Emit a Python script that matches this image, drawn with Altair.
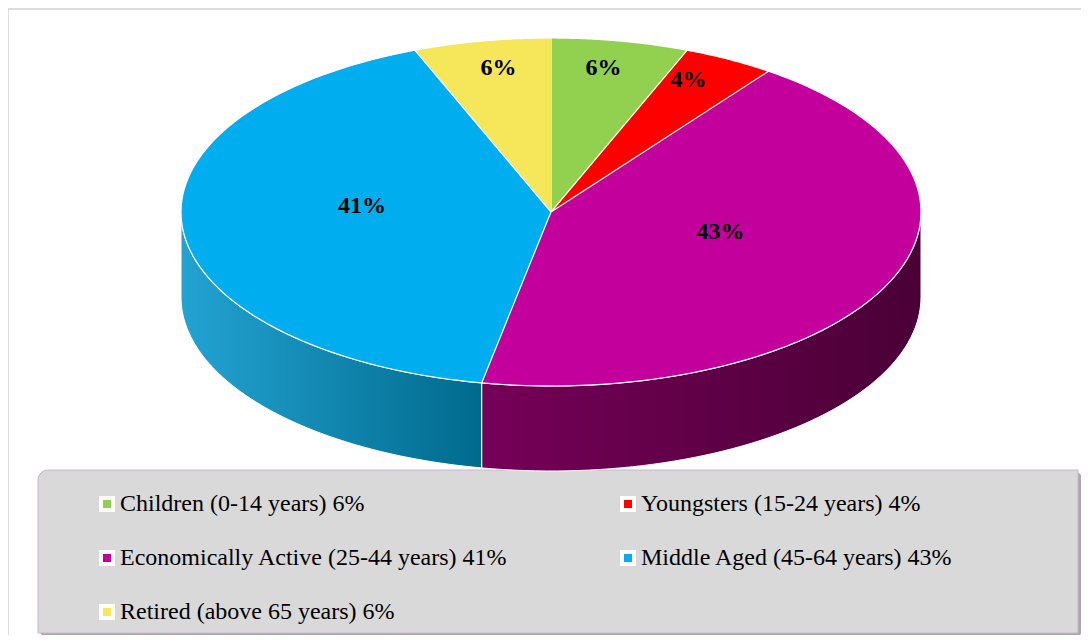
import altair as alt
import pandas as pd

# ---- data ----
categories = [
    "Children (0-14 years) 6%",
    "Youngsters (15-24 years) 4%",
    "Economically Active (25-44 years) 41%",
    "Middle Aged (45-64 years) 43%",
    "Retired (above 65 years) 6%",
]
values = [6, 4, 43, 41, 6]
slice_labels = ["6%", "4%", "43%", "41%", "6%"]
top_colors = ["#92d050", "#ff0000", "#c4009c", "#00aeef", "#f5e65a"]
side_colors = [
    ["#6f9e3c", "#557a2c"],
    ["#b00000", "#800000"],
    ["#760058", "#4a0036"],
    ["#23a3d3", "#006a8c"],
    ["#b0a440", "#8a8030"],
]

df = pd.DataFrame({
    "category": categories,
    "value": values,
    "label": slice_labels,
    "order": list(range(len(categories))),
})

# ---- layout constants (pixels per unit and ellipse shape) ----
PX = 370.0
W, H = 1073, 627
CX, CY = 543.0, 204.0          # centre of the top ellipse in plot pixels
K = 174.0 / PX                 # vertical squash of the ellipse
DEPTH = 85.0 / PX              # thickness of the pie

xs = alt.Scale(domain=[-CX / PX, (W - CX) / PX], nice=False, zero=False)
ys = alt.Scale(domain=[-CY / PX, (H - CY) / PX], nice=False, zero=False, reverse=True)

base = alt.Chart(df).transform_joinaggregate(
    total="sum(value)"
).transform_window(
    cum="sum(value)", sort=[alt.SortField("order")], frame=[None, 0]
).transform_calculate(
    a0="2*PI*(datum.cum - datum.value)/datum.total",
    a1="2*PI*datum.cum/datum.total",
    frac="datum.value/datum.total",
)

# ---- side walls (front half only) ----
side_base = base.transform_calculate(
    s2="max(datum.a0, PI/2)", e2="min(datum.a1, 3*PI/2)"
).transform_filter("datum.e2 > datum.s2").transform_calculate(
    pts="sequence(0, 61)"
).transform_flatten(["pts"]).transform_calculate(
    ang="datum.s2 + (datum.e2 - datum.s2)*datum.pts/60",
    px="sin(datum.ang)",
    ytop=f"-{K}*cos(datum.ang)",
    ybot=f"-{K}*cos(datum.ang) + {DEPTH}",
)

side_layers = []
for cat, (c0, c1) in zip(categories, side_colors):
    grad = alt.LinearGradient(
        gradient="linear",
        stops=[alt.GradientStop(offset=0, color=c0), alt.GradientStop(offset=1, color=c1)],
        x1=0, x2=1, y1=0, y2=0,
    )
    side_layers.append(
        side_base.transform_filter(alt.datum.category == cat).mark_area(
            fill=grad, stroke="white", strokeWidth=1
        ).encode(
            x=alt.X("px:Q", scale=xs, axis=None),
            y=alt.Y("ytop:Q", scale=ys, axis=None),
            y2="ybot:Q",
        )
    )

# ---- top faces ----
top = base.transform_calculate(
    pts="sequence(-1, 81)"
).transform_flatten(["pts"]).transform_calculate(
    ang="datum.a0 + (datum.a1 - datum.a0)*max(datum.pts, 0)/80",
    px="datum.pts < 0 ? 0 : sin(datum.ang)",
    py=f"datum.pts < 0 ? 0 : -{K}*cos(datum.ang)",
).mark_line(filled=True, stroke="white", strokeWidth=1.2, strokeJoin="round").encode(
    x=alt.X("px:Q", scale=xs, axis=None),
    y=alt.Y("py:Q", scale=ys, axis=None),
    color=alt.Color(
        "category:N",
        scale=alt.Scale(domain=categories, range=top_colors),
        sort=categories,
        legend=alt.Legend(
            title=None, orient="none", legendX=87, legendY=484, columns=2,
            direction="horizontal",
            columnPadding=106, rowPadding=26, symbolType="square", symbolSize=144,
            symbolStrokeColor="white", symbolStrokeWidth=4, symbolOpacity=1,
            labelFont="Liberation Serif", labelFontSize=24, labelColor="black",
            labelOffset=1, padding=0, labelLimit=700,
        ),
    ),
    order=alt.Order("pts:Q"),
)

# ---- percentage labels ----
labels = base.transform_calculate(
    mid="(datum.a0 + datum.a1)/2",
    f="0.8 - 0.7*datum.frac",
    lx="datum.f*sin(datum.mid)",
    ly=f"-{K}*datum.f*cos(datum.mid) - {14.0 / PX}",
).mark_text(
    font="Liberation Serif", fontSize=24, fontWeight="bold", color="black"
).encode(
    x=alt.X("lx:Q", scale=xs, axis=None),
    y=alt.Y("ly:Q", scale=ys, axis=None),
    text="label:N",
)

# ---- legend box and frame ----
one = alt.Data(values=[{}])
shadow = alt.Chart(one).mark_rect(fill="#a9a9a9", cornerRadius=3).encode(
    x=alt.value(33), x2=alt.value(1073), y=alt.value(465), y2=alt.value(628)
)
box = alt.Chart(one).mark_rect(
    fill="#d9d9d9", stroke="#c9b6c9", strokeWidth=1, cornerRadiusTopLeft=10
).encode(
    x=alt.value(30), x2=alt.value(1070), y=alt.value(462), y2=alt.value(625)
)
frame = alt.Chart(one).mark_rule(color="#dcdcdc", strokeWidth=2).encode(
    x=alt.value(0), x2=alt.value(W), y=alt.value(1)
)

chart = alt.layer(
    frame, shadow, box, *side_layers, top, labels
).properties(
    width=W, height=H, autosize=alt.AutoSizeParams(type="none"), padding=0
).configure_view(stroke=None).configure(background="white")

chart.save("out.html", embed_options={"renderer": "svg", "actions": False})
